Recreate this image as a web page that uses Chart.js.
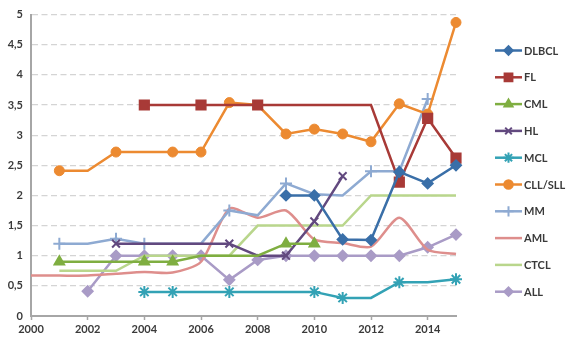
<!DOCTYPE html>
<html lang="en">
<head>
  <meta charset="UTF-8" />
  <title>Lymphoma / leukemia series 2000-2015</title>
  <script src="https://cdn.jsdelivr.net/npm/chart.js"></script>
  <style>
    html, body { margin: 0; padding: 0; background: #fff; overflow: hidden; }
    canvas { display: block; }
  </style>
</head>
<body>
  <canvas id="graph" width="567" height="341"></canvas>

  <script>
    // years on the x axis
    const years = ['2000','2001','2002','2003','2004','2005','2006','2007',
                   '2008','2009','2010','2011','2012','2013','2014','2015'];

    // values (null = no value that year)
    const dlbcl = [null,null,null,null,null,null,null,null,null,2.0,2.0,1.27,1.26,2.39,2.2,2.5];
    const fl    = [null,null,null,null,3.5,3.5,3.5,3.5,3.5,3.5,3.5,3.5,3.5,2.22,3.28,2.62];
    const cml   = [null,0.9,0.9,0.9,0.9,0.9,1.0,1.0,1.0,1.2,1.2,null,null,null,null,null];
    const hl    = [null,null,null,1.2,1.2,1.2,1.2,1.2,1.0,1.0,1.57,2.32,null,null,null,null];
    const mcl   = [null,null,null,null,0.4,0.4,0.4,0.4,0.4,0.4,0.4,0.3,0.3,0.56,0.56,0.61];
    const cll   = [null,2.41,2.41,2.72,2.72,2.72,2.72,3.54,3.5,3.02,3.1,3.02,2.89,3.52,3.35,4.87];
    const mm    = [null,1.2,1.2,1.28,1.2,1.2,1.2,1.75,1.67,2.2,2.02,2.0,2.4,2.4,3.6,null];
    const aml   = [0.67,0.67,0.67,0.7,0.73,0.72,0.9,1.78,1.63,1.75,1.27,1.21,1.15,1.63,1.1,1.03];
    const ctcl  = [null,0.75,0.75,0.75,1.0,1.0,1.0,1.0,1.5,1.5,1.5,1.5,2.0,2.0,2.0,2.0];
    const all   = [null,null,0.41,1.0,1.0,1.0,1.0,0.6,0.93,1.0,1.0,1.0,1.0,1.0,1.14,1.35];

    // y axis ticks
    const yMin = 0, yMax = 5, yStep = 0.5;

    // years where a marker is drawn (the others only carry the line)
    function markers(list, r) {
      return years.map(y => list === 'all' || list.includes(+y) ? r : 0);
    }

    const series = [
      { label: 'DLBCL',   data: dlbcl, color: '#3a6fa8', style: 'rectRot',  r: 5,   on: 'all' },
      { label: 'FL',      data: fl,    color: '#a83a37', style: 'rect',     r: 6.5, on: [2004,2006,2008,2013,2014,2015] },
      { label: 'CML',     data: cml,   color: '#7fae41', style: 'triangle', r: 5.5, on: [2001,2004,2005,2009,2010] },
      { label: 'HL',      data: hl,    color: '#62497f', style: 'crossRot', r: 5.5, on: [2003,2007,2009,2010,2011] },
      { label: 'MCL',     data: mcl,   color: '#33a2b5', style: 'star',     r: 6,   on: [2004,2005,2007,2010,2011,2013,2015] },
      { label: 'CLL/SLL', data: cll,   color: '#ec8a31', style: 'circle',   r: 5,   on: [2001,2003,2005,2006,2007,2009,2010,2011,2012,2013,2014,2015] },
      { label: 'MM',      data: mm,    color: '#8eaad2', style: 'cross',    r: 6,   on: [2001,2003,2004,2007,2009,2012,2013,2014] },
      { label: 'AML',     data: aml,   color: '#de8e8c', style: false,      r: 0,   on: [] },
      { label: 'CTCL',    data: ctcl,  color: '#b9d68c', style: false,      r: 0,   on: [] },
      { label: 'ALL',     data: all,   color: '#a99bc6', style: 'rectRot',  r: 5,   on: 'all' }
    ];

    Chart.defaults.font.family = 'Lato, "Open Sans", sans-serif';
    Chart.defaults.font.size = 11;
    Chart.defaults.font.weight = 'bold';
    Chart.defaults.color = '#3a3a3a';

    // legend on the right: short line with its marker, then the name
    const sideLegend = {
      id: 'sideLegend',
      afterDraw(chart) {
        const ctx = chart.ctx;
        const x0 = 495, x1 = 522, top = 50.5, step = 26.8;
        ctx.save();
        series.forEach((s, i) => {
          const y = top + i * step;
          ctx.strokeStyle = s.color;
          ctx.fillStyle = s.color;
          ctx.lineWidth = 2.5;
          ctx.beginPath();
          ctx.moveTo(x0, y);
          ctx.lineTo(x1, y);
          ctx.stroke();
          if (s.style) {
            ctx.lineWidth = 2;
            Chart.helpers.drawPoint(ctx, { pointStyle: s.style, radius: s.r * 0.85, rotation: 0, borderWidth: 2 }, (x0 + x1) / 2, y);
          }
          ctx.fillStyle = '#3a3a3a';
          ctx.font = 'bold 11px Lato, "Open Sans", sans-serif';
          ctx.textBaseline = 'middle';
          ctx.textAlign = 'left';
          ctx.fillText(s.label, x1 + 2, y + 0.5);
        });
        ctx.restore();
      }
    };

    const ctx = document.getElementById('graph').getContext('2d');

    const chart = new Chart(ctx, {
      type: 'line',
      data: {
        labels: years,
        datasets: series.map(s => ({
          label: s.label,
          data: s.data,
          borderColor: s.color,
          backgroundColor: s.color,
          borderWidth: 2.5,
          pointStyle: s.style || 'circle',
          pointRadius: markers(s.on, s.r),
          pointHoverRadius: 0,
          pointBorderColor: s.color,
          pointBackgroundColor: s.color,
          pointBorderWidth: s.style === 'circle' ? 1 : 2,
          tension: s.label === 'AML' ? 0.25 : 0,
          spanGaps: true,
          fill: false
        }))
      },
      options: {
        responsive: false,
        animation: false,
        layout: { padding: { top: 7, right: 111, left: 0, bottom: 0 } },
        scales: {
          x: {
            offset: false,
            grid: {
              drawOnChartArea: false,
              tickLength: 4,
              tickColor: c => (c.index % 2 === 0 ? '#a6a6a6' : 'rgba(0,0,0,0)'),
              tickWidth: 1.5
            },
            border: { color: '#a6a6a6', width: 2 },
            ticks: {
              autoSkip: false,
              maxRotation: 0,
              padding: 3,
              callback: (v, i) => (i % 2 === 0 ? years[i] : '')
            },
            afterFit: scale => { scale.height = 25; }
          },
          y: {
            min: yMin,
            max: yMax,
            grid: { color: '#d4d4d4', lineWidth: 1.2, drawTicks: false },
            border: { color: '#a6a6a6', width: 2, dash: [6, 3.5] },
            ticks: {
              stepSize: yStep,
              padding: 8,
              callback: v => String(v).replace('.', ',')
            },
            afterFit: scale => { scale.width = 31; }
          }
        },
        plugins: {
          legend: { display: false },
          tooltip: { enabled: false }
        }
      },
      plugins: [sideLegend]
    });
  </script>
</body>
</html>
